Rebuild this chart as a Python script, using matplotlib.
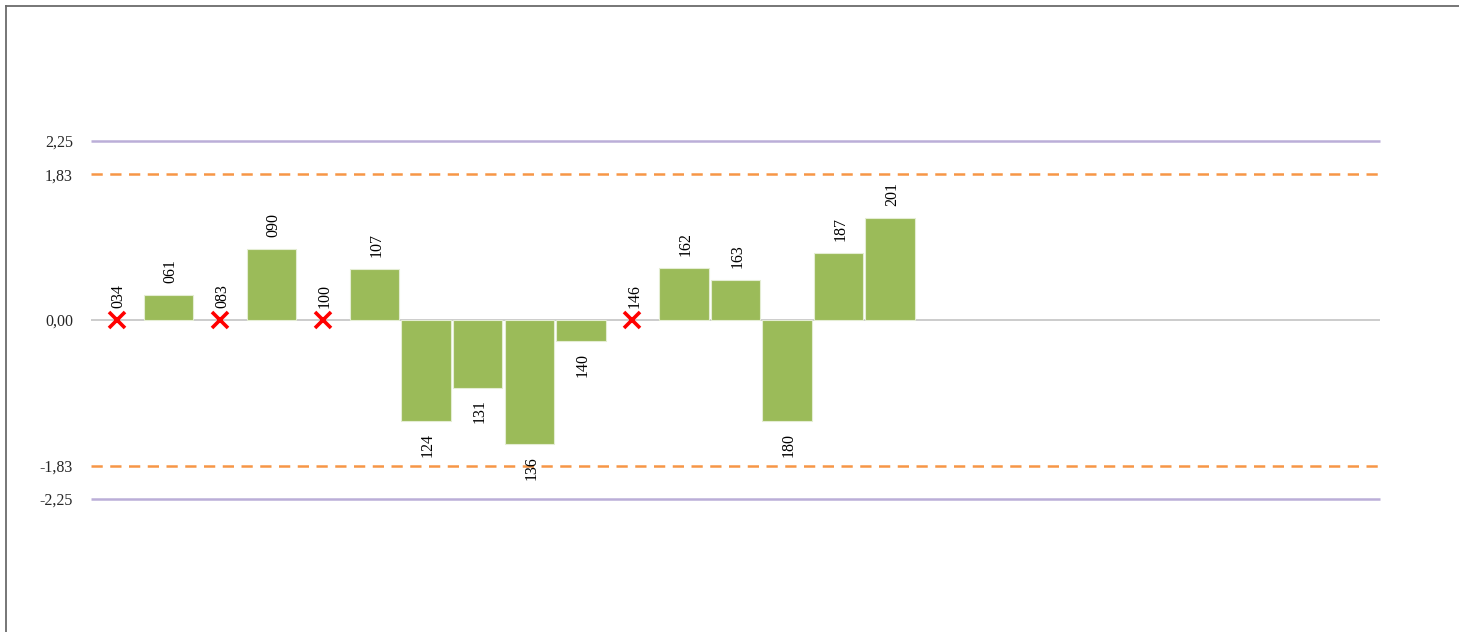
import numpy as np
import matplotlib.pyplot as plt
from matplotlib.lines import Line2D

# 25 slots on the x axis, only the first 16 are used
codes = ["034", "061", "083", "090", "100", "107", "124", "131", "136", "140",
         "146", "162", "163", "180", "187", "201"]
values = [np.nan, 0.31, np.nan, 0.89, np.nan, 0.64, -1.27, -0.85, -1.56, -0.26,
          np.nan, 0.65, 0.50, -1.27, 0.84, 1.28]
n_slots = 25
outer_lim = 2.25
inner_lim = 1.83
tick_vals = [-2.25, -1.83, 0.0, 1.83, 2.25]
tick_text = ["-2,25", "-1,83", "0,00", "1,83", "2,25"]

W, H = 1459, 632
fig = plt.figure(figsize=(W / 100, H / 100), dpi=100)
ax = fig.add_axes([91 / W, 1 - 499 / H, (1380 - 91) / W, (499 - 141) / H])

font = "Liberation Serif"
x = np.arange(len(codes))
vals = np.array(values, dtype=float)
ok = ~np.isnan(vals)

ax.bar(x[ok], vals[ok], width=0.96, color="#9BBB59", edgecolor="#E4EDD3",
       linewidth=0.8, zorder=3)

ax.axhline(0, color="#BFBFBF", lw=1.1, zorder=2)
for sgn in (1, -1):
    ax.axhline(sgn * outer_lim, color="#BBAED8", lw=1.8, zorder=1, clip_on=False,
               solid_capstyle="butt")
    ax.axhline(sgn * inner_lim, color="#F79646", lw=1.8, ls=(0, (4.5, 3)), zorder=1)

# missing values -> red cross at zero
ax.plot(x[~ok], np.zeros((~ok).sum()), ls="none", marker="x", color="#FF0000",
        ms=11, mew=2.6, zorder=4, clip_on=False)

for xi, v, c in zip(x, vals, codes):
    if np.isnan(v) or v >= 0:
        y = 0 if np.isnan(v) else v
        ax.annotate(c, (xi, y), xytext=(2, 12), textcoords="offset pixels",
                    rotation=90, ha="center", va="bottom", fontsize=11.5,
                    family=font, annotation_clip=False)
    else:
        ax.annotate(c, (xi, v), xytext=(2, -12), textcoords="offset pixels",
                    rotation=90, ha="center", va="top", fontsize=11.5,
                    family=font, annotation_clip=False)

ax.set_xlim(-0.5, n_slots - 0.5)
ax.set_ylim(-outer_lim, outer_lim)
ax.set_xticks([])
ax.set_yticks(tick_vals)
ax.set_yticklabels(tick_text, family=font, fontsize=11.5, color="#262626")
ax.tick_params(axis="y", length=0, pad=13)
for s in ax.spines.values():
    s.set_visible(False)

# chart frame (top and left edges visible)
fig.add_artist(Line2D([6 / W, 1], [1 - 6 / H, 1 - 6 / H], color="#6B6B6B", lw=1.3))
fig.add_artist(Line2D([6 / W, 6 / W], [0, 1 - 6 / H], color="#6B6B6B", lw=1.3))

fig.savefig("out.png", dpi=100, facecolor="white")
